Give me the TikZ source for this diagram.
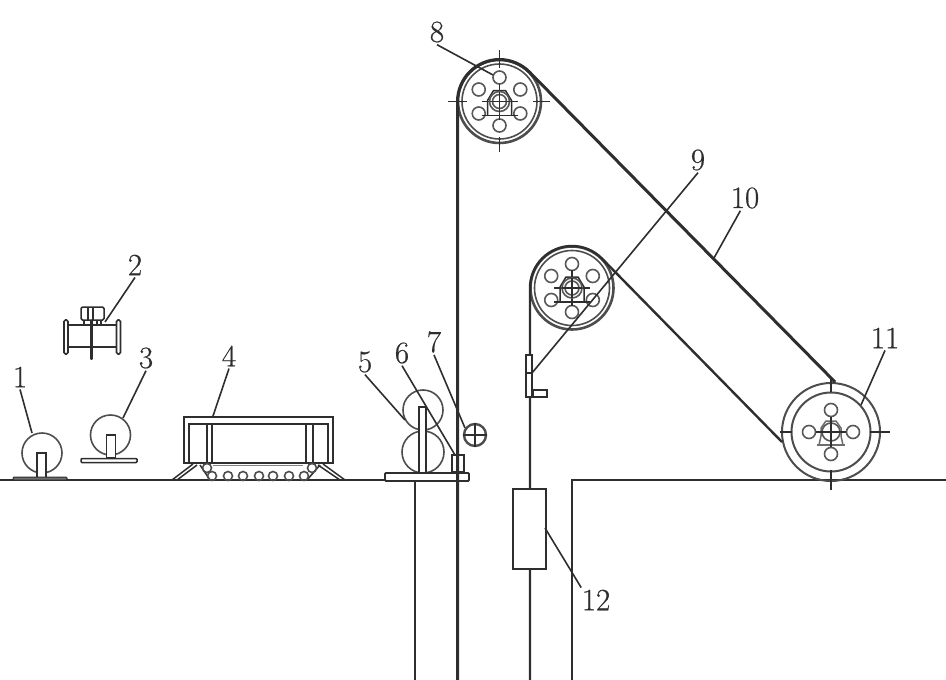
\documentclass[tikz,border=0pt]{standalone}
\usepackage{fontspec}
\newfontfamily\numfont{Latin Modern Roman}[FakeBold=0.6]
\definecolor{ink}{gray}{0.18}
\tikzset{
  base/.style     = {draw=ink, line width=1.5pt},
  belt/.style     = {draw=ink, line width=3pt},
  lead/.style     = {draw=ink, line width=1.6pt},
  block/.style    = {draw=ink, line width=1.8pt, rectangle, fill=white, inner sep=0pt},
  reel/.style     = {draw=ink!85, line width=1.6pt, circle, inner sep=0pt},
  num/.style      = {text=ink, inner sep=2pt, font=\numfont\fontsize{31}{31}\selectfont},
  hole/.style     = {draw=ink!80, line width=1.6pt},
  pics/hubsix/.style = {code={
    \foreach \a in {30,90,...,330} \draw[hole] (\a:24) circle (6.5);
    \draw[base] (-12,14) -- (-12,-1) -- (-6,-11) -- (6,-11) -- (12,-1) -- (12,14);
    \draw[base] (-18,14) -- (18,14);
    \draw[base] (-18,0) -- (18,0);
    \draw[base] (0,-18) -- (0,18);
    \draw[hole, fill=white] (0,0) circle (10);
    \draw[hole] (0,0) circle (7);
    \draw[base] (-10,0) -- (10,0) (0,-10) -- (0,10);
  }},
  pics/hubfour/.style = {code={
    \foreach \a in {0,90,180,270} \draw[hole] (\a:22) circle (6.5);
    \draw[base, ink!70] (-14,13) -- (14,13);
    \draw[base, ink!70] (-12,13) -- (-10,4) -- (-10,-4) -- (-5,-11) -- (5,-11) -- (10,-4) -- (10,4) -- (12,13);
    \draw[hole, fill=white] (0,0) circle (9);
    \draw[base] (-15,0) -- (15,0) (0,-15) -- (0,15);
  }}
}

\begin{document}
\begin{tikzpicture}[x=1pt, y=-1pt]
\useasboundingbox (0,0) rectangle (946,680);

% Floor
\coordinate (floorA) at (0,480);
\coordinate (floorB) at (385,480);
\coordinate (floorC) at (572,480);
\coordinate (floorD) at (946,480);
\coordinate (wallA) at (415,481);
\coordinate (wallAe) at (415,680);
\coordinate (wallCe) at (572,680);
\draw[base] (floorA) -- (floorB);
\draw[base] (floorD) -- (floorC) -- (wallCe);
\draw[base] (wallA) -- (wallAe);

% Pay-off reel 1
\draw node [reel, minimum size=40, name=reel1] at (42,453) {};
\draw node [block, minimum width=9, minimum height=27, line width=1.5pt, name=post1] at (41.5,466.5) {};
\draw node [block, minimum width=54, minimum height=3, fill=ink!70, line width=1pt, rounded corners=1pt, name=plate1] at (40,478.5) {};

% Unit 2
\draw node [block, minimum width=4, minimum height=34, line width=1.6pt, rounded corners=1.5pt, name=flange2a] at (66,337) {};
\draw node [block, minimum width=4, minimum height=34, line width=1.6pt, rounded corners=1.5pt, name=flange2b] at (118.5,337) {};
\draw node [block, minimum width=23, minimum height=13, line width=1.5pt, rounded corners=1.5pt, name=head2] at (92.5,313.5) {};
\coordinate (shaft2a) at (68,325);
\coordinate (shaft2b) at (116.5,325);
\coordinate (shaft2c) at (68,347);
\coordinate (shaft2d) at (116.5,347);
\coordinate (rod2) at (91.5,359);
\draw[base] (shaft2a) -- (shaft2b);
\draw[base] (shaft2c) -- (shaft2d);
\draw[belt, line width=2.2pt, line cap=round] (head2.south -| rod2) -- (rod2);
\draw[base] (88,307) -- (88,320) (93,307) -- (93,320);
\draw[base] (84,320) -- (84,324) (101,320) -- (101,324) (97,320) -- (97,324);

% Reel 3
\draw node [reel, minimum size=40, name=reel3] at (110.5,435) {};
\draw node [block, minimum width=9, minimum height=23, line width=1.5pt, name=post3] at (111,446.5) {};
\draw node [block, minimum width=56, minimum height=4, line width=1.5pt, rounded corners=1pt, name=plate3] at (109,460.5) {};

% Furnace 4
\draw node [block, minimum width=149, minimum height=46, name=oven] at (258.5,440) {};
\draw node [block, minimum width=139, minimum height=39, line width=1.6pt, name=ovenin] at (258.5,443.5) {};
\draw[base] (207,424) -- (207,463) (212,424) -- (212,463);
\draw[base] (306,424) -- (306,463) (313,424) -- (313,463);
\draw[base] (172,480) -- (193,464) (177,480) -- (197,465);
\draw[base] (345,480) -- (323,464) (340,480) -- (318,465);
\draw[base] (200,465) -- (210,480) (320,465) -- (307,480);
\draw[base, ink!60] (213,465.5) -- (303,465.5);
\foreach \i/\x in {a/212,b/228,c/243,d/259,e/273,f/289,g/304}
  \draw node [reel, minimum size=9, name=roll\i] at (\x,476) {};
\draw node [reel, minimum size=9, name=rollh] at (207,468) {};
\draw node [reel, minimum size=9, name=rolli] at (312,468) {};

% Rollers 5, guide 6, wheel 7
\draw node [reel, minimum size=40, name=reel5a] at (423,410) {};
\draw node [reel, minimum size=42, name=reel5b] at (423,452) {};
\draw node [block, minimum width=7, minimum height=66, line width=1.5pt, name=post5] at (422.5,440) {};
\draw node [block, minimum width=84, minimum height=8, line width=1.8pt, rounded corners=1pt, name=plate5] at (427,477) {};
\draw node [block, minimum width=12, minimum height=17, line width=1.6pt, name=guide6] at (458,463.5) {};
\draw node [reel, line width=2.4pt, minimum size=22, name=wheel7] at (475,435) {};
\draw[base, line width=2pt] (wheel7.north) -- (wheel7.south);
\draw[base, line width=2pt] (wheel7.west) -- (wheel7.east);

% Pulleys
\draw node [reel, line width=2.6pt, minimum size=83, name=pul8] at (499.5,101.5) {};
\draw node [reel, minimum size=75, name=pul8in] at (499.5,101.5) {};
\draw node [reel, line width=2.6pt, minimum size=83, name=pul9] at (572,288) {};
\draw node [reel, minimum size=75, name=pul9in] at (572,288) {};
\draw node [reel, line width=2pt, minimum size=98, name=pul11] at (831,432) {};
\draw node [reel, line width=2pt, minimum size=79, name=pul11in] at (831,432) {};
\pic at (499.5,101.5) {hubsix};
\pic at (572,288) {hubsix};
\pic at (831,432) {hubfour};

% Ticks on the pulleys
\draw[base, line width=1.8pt] (499.5,50) -- (499.5,68) (499.5,137) -- (499.5,152);
\draw[base, line width=1.8pt] (448,101.5) -- (467,101.5) (533,101.5) -- (550,101.5);
\draw[base, line width=1.8pt] (831,378) -- (831,392) (831,470) -- (831,490);
\draw[base, line width=1.8pt] (780,432) -- (792,432) (870,432) -- (890,432);

% Belts
\coordinate (beltA) at (457.5,680);
\coordinate (beltAt) at (457.5,101.5);
\coordinate (beltAe) at (835,382);
\coordinate (beltB) at (530,680);
\coordinate (beltBt) at (530,288);
\coordinate (beltBe) at (782,442);
\draw[belt] (beltA) -- (beltAt) arc[start angle=180, end angle=45, radius=42pt] -- (beltAe);
\draw[belt, line width=2.4pt] (beltB) -- (beltBt) arc[start angle=180, end angle=45, radius=42pt] -- (beltBe);

% Clamp 9 and box 12
\draw node [block, minimum width=6, minimum height=42, line width=1.6pt, name=clamp9] at (529,376) {};
\draw node [block, minimum width=14, minimum height=7, line width=1.5pt, name=tab9] at (540,393.5) {};
\coordinate (clampa) at (526,373);
\coordinate (clampb) at (532,373);
\draw[base] (clampa) -- (clampb);
\draw node [block, minimum width=33, minimum height=80, name=box12] at (529.5,529) {};

% Labels
\draw node [num, name=lab1] at (20,377) {1};
\draw node [num, name=lab2] at (135,265) {2};
\draw node [num, name=lab3] at (146,358) {3};
\draw node [num, name=lab4] at (229,356) {4};
\draw node [num, name=lab5] at (365,362) {5};
\draw node [num, name=lab6] at (402,353) {6};
\draw node [num, name=lab7] at (434,342) {7};
\draw node [num, name=lab8] at (437,32) {8};
\draw node [num, name=lab9] at (698,160) {9};
\draw node [num, name=lab10] at (745,198) {10};
\draw node [num, name=lab11] at (885,338) {11};
\draw node [num, name=lab12] at (596,600) {12};

% Leaders
\coordinate (end1) at (32,433);
\coordinate (end2) at (105,322);
\coordinate (end3) at (123,418);
\coordinate (end4) at (213,416);
\coordinate (end5) at (405,420);
\coordinate (end6) at (455,455);
\coordinate (end7) at (465,428);
\coordinate (end8) at (493,75);
\coordinate (end9) at (532,373);
\coordinate (end10) at (714,258);
\coordinate (end11) at (861,405);
\coordinate (end12) at (545,528);
\draw[lead] (lab1.south) -- (end1);
\draw[lead] (lab2.south) -- (end2);
\draw[lead] (lab3.south) -- (end3);
\draw[lead] (lab4.south) -- (end4);
\draw[lead] (lab5.south) -- (end5);
\draw[lead] (lab6.south) -- (end6);
\draw[lead] (lab7.south) -- (end7);
\draw[lead] (lab8.south) -- (end8);
\draw[lead] (lab9.south) -- (end9);
\draw[lead] (lab10.250) -- (end10);
\draw[lead] (lab11.south) -- (end11);
\draw[lead] (lab12.140) -- (end12);

\end{tikzpicture}
\end{document}
